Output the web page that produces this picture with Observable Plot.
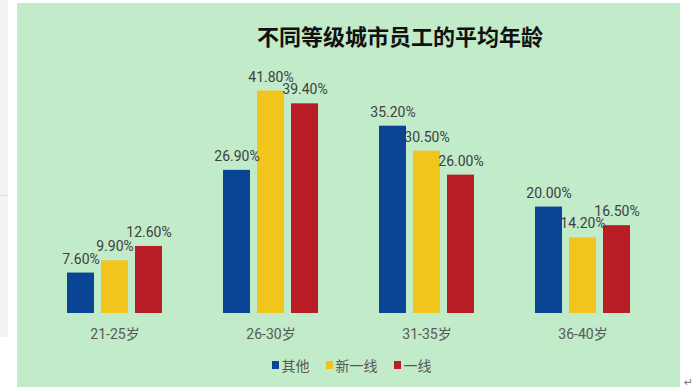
<!DOCTYPE html>
<html>
<head>
<meta charset="utf-8">
<script src="https://cdn.jsdelivr.net/npm/d3@7"></script>
<script src="https://cdn.jsdelivr.net/npm/@observablehq/plot@0.6"></script>
<style>
  html, body { margin: 0; padding: 0; background: #ffffff; width: 700px; height: 392px; overflow: hidden; }
  #strip { position: absolute; left: 0; top: 0; width: 8px; height: 337px; background: #f3f3f3; }
  #strip-line { position: absolute; left: 0; top: 195px; width: 8px; height: 1px; background: #dcdcdc; }
  #panel { position: absolute; left: 17px; top: 3px; width: 663px; height: 384px; background: #c1ebc9; }
  #title { height: 50px; box-sizing: border-box; padding-top: 20px; padding-left: 103px; text-align: center;
           font-family: "Noto Sans CJK SC", sans-serif; font-weight: bold; font-size: 22px; line-height: 24px; color: #111; }
  #chart svg { display: block; }
  #legend { display: flex; justify-content: center; align-items: center; padding-top: 5px; height: 20px;
            font-family: "Noto Sans CJK SC", sans-serif; font-size: 14px; color: #595959; padding-left: 6px; }
  .item { display: flex; align-items: center; margin: 0 8px; }
  .sw { width: 7px; height: 8px; margin-right: 3px; }
  #ret { position: absolute; left: 684px; top: 376px; font-size: 11px; color: #777; font-family: "DejaVu Sans", sans-serif; }
</style>
</head>
<body>
<div id="strip"><div id="strip-line"></div></div>
<div id="panel">
  <div id="title">不同等级城市员工的平均年龄</div>
  <div id="chart"></div>
  <div id="legend"></div>
</div>
<div id="ret">↵</div>
<script>
const groups = ["21-25岁", "26-30岁", "31-35岁", "36-40岁"];
const series = ["其他", "新一线", "一线"];
const valuesOther = [7.6, 26.9, 35.2, 20.0];
const valuesNewTier1 = [9.9, 41.8, 30.5, 14.2];
const valuesTier1 = [12.6, 39.4, 26.0, 16.5];
const colors = ["#0a4494", "#f2c51c", "#b81c25"];

const seriesValues = [valuesOther, valuesNewTier1, valuesTier1];
const data = groups.flatMap((g, i) => series.map((s, j) => ({ group: g, series: s, value: seriesValues[j][i] })));

const chart = Plot.plot({
  width: 663,
  height: 297,
  marginLeft: 17,
  marginRight: 18,
  marginTop: 20,
  marginBottom: 37,
  style: { background: "transparent", fontFamily: "Roboto, 'Noto Sans CJK SC', sans-serif", fontSize: "14px", color: "#595959" },
  fx: { domain: groups, paddingInner: 0.379, paddingOuter: 0.19, label: null, axis: "bottom", tickSize: 0, tickPadding: 16 },
  x: { domain: series, paddingInner: 0.214, paddingOuter: 0, axis: null },
  y: { domain: [0, 45.1], axis: null },
  color: { domain: series, range: colors },
  marks: [
    Plot.barY(data, { fx: "group", x: "series", y: "value", fill: "series" }),
    Plot.text(data, { fx: "group", x: "series", y: "value", text: d => d.value.toFixed(2) + "%",
                      dy: -14, fill: "#404040", fontSize: 14, letterSpacing: -0.2 })
  ]
});
document.getElementById("chart").appendChild(chart);

const legend = document.getElementById("legend");
series.forEach((s, j) => {
  const item = document.createElement("div");
  item.className = "item";
  const sw = document.createElement("div");
  sw.className = "sw";
  sw.style.background = colors[j];
  const t = document.createElement("span");
  t.textContent = s;
  item.appendChild(sw);
  item.appendChild(t);
  legend.appendChild(item);
});
</script>
</body>
</html>
